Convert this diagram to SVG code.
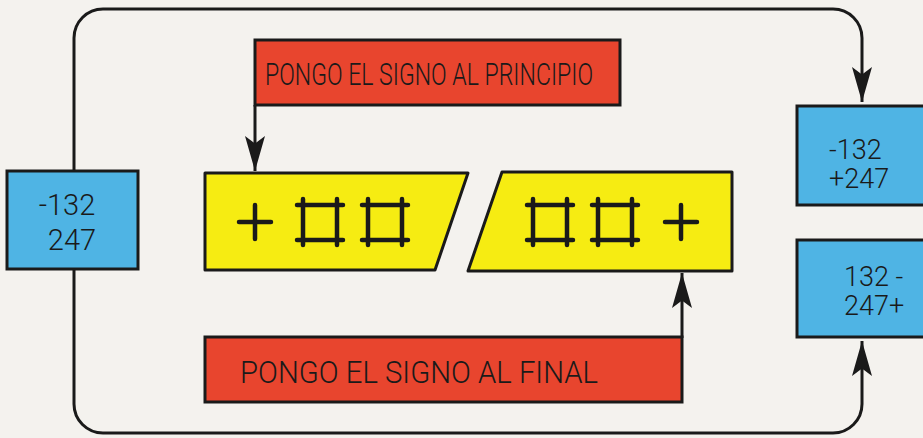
<svg xmlns="http://www.w3.org/2000/svg" width="923" height="438" viewBox="0 0 923 438">
<style>
.bg{fill:#f4f2ee}
.blue{fill:#4fb4e4;stroke:#1a1a1a;stroke-width:3}
.red{fill:#e8452e;stroke:#1a1a1a;stroke-width:3}
.yel{fill:#f6ec12;stroke:#1a1a1a;stroke-width:3;stroke-linejoin:round}
.line{fill:none;stroke:#1a1a1a;stroke-width:3}
.sym{fill:none;stroke:#1a1a1a;stroke-width:4.5;stroke-linecap:round}
.num{font-family:Roboto,"DejaVu Sans Condensed",sans-serif;font-weight:300;font-size:29px;fill:#1a1a1a}
.sm{font-size:27px}
.lbl{font-family:Roboto,"DejaVu Sans Condensed",sans-serif;font-weight:300;font-size:31px;fill:#1a1a1a}
</style>
<defs>
<marker id="ah" markerUnits="userSpaceOnUse" markerWidth="40" markerHeight="40" viewBox="-30 -10 32 20" refX="0" refY="0" orient="auto">
<path d="M0,0 L-28,-8 L-22,0 L-28,8 Z" fill="#1a1a1a"/>
</marker>
</defs>
<rect class="bg" x="0" y="0" width="923" height="438"/>
<g id="connectors">
<path class="line" d="M74,171 V38 A29,29 0 0 1 103,9 H833 A29,29 0 0 1 862,38 V102" marker-end="url(#ah)"/>
<path class="line" d="M74,269 V404 A29,29 0 0 0 103,433 H833 A29,29 0 0 0 862,404 V341" marker-end="url(#ah)"/>
<path class="line" d="M255,105 V171" marker-end="url(#ah)"/>
<path class="line" d="M682,338 V273" marker-end="url(#ah)"/>
</g>
<g id="input">
<rect class="blue" x="7" y="171" width="131" height="98"/>
<text class="num" x="67" y="215" text-anchor="middle">-132</text>
<text class="num" x="72" y="250" text-anchor="middle">247</text>
</g>
<g id="label-top">
<rect class="red" x="255" y="40" width="365" height="65"/>
<text class="lbl" x="265" y="85" textLength="328" lengthAdjust="spacingAndGlyphs">PONGO EL SIGNO AL PRINCIPIO</text>
</g>
<g id="label-bottom">
<rect class="red" x="205" y="337" width="477" height="65"/>
<text class="lbl" x="240" y="383" textLength="358" lengthAdjust="spacingAndGlyphs">PONGO EL SIGNO AL FINAL</text>
</g>
<g id="format-left">
<polygon class="yel" points="205,173 468,173 435,270 205,270"/>
<path class="sym" d="M239,222 H271 M255,205 V239"/>
<path class="sym" d="M303,199 V245 M337,199 V245 M297,205 H343 M297,240 H343"/>
<path class="sym" d="M368,199 V245 M402,199 V245 M362,205 H408 M362,240 H408"/>
</g>
<g id="format-right">
<polygon class="yel" points="502,172 732,172 732,271 468,271"/>
<path class="sym" d="M533,199 V245 M567,199 V245 M527,205 H573 M527,240 H573"/>
<path class="sym" d="M598,199 V245 M632,199 V245 M592,205 H638 M592,240 H638"/>
<path class="sym" d="M665,222 H697 M681,205 V239"/>
</g>
<g id="out-start">
<rect class="blue" x="797" y="106" width="140" height="99"/>
<text class="num sm" x="829" y="159">-132</text>
<text class="num sm" x="829" y="188">+247</text>
</g>
<g id="out-end">
<rect class="blue" x="797" y="240" width="140" height="97"/>
<text class="num sm" x="844" y="286">132 -</text>
<text class="num sm" x="844" y="315">247+</text>
</g>
</svg>
